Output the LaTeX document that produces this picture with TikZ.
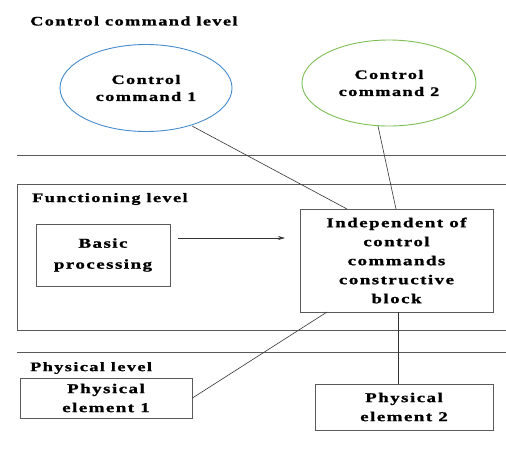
\documentclass[tikz,border=0pt]{standalone}
\usepackage{fontspec}
\setmainfont{Liberation Serif}
\newfontfamily\lbl[LetterSpace=11,FakeStretch=1.4,FakeBold=1.2]{Liberation Serif}
\usetikzlibrary{shapes.geometric,arrows.meta}
\definecolor{cblue}{RGB}{70,140,205}
\definecolor{cgreen}{RGB}{125,190,85}
\definecolor{lgray}{RGB}{90,90,90}
\begin{document}
\begin{tikzpicture}[x=1pt,y=-1pt,
  txt/.style={font=\lbl\bfseries\fontsize{13.5}{19}\selectfont, text=black, align=center, inner sep=0},
  ttl/.style={txt, anchor=west, font=\lbl\bfseries\fontsize{13}{15}\selectfont},
  boxn/.style={draw=lgray, line width=0.9pt, txt},
  elln/.style={ellipse, line width=0.9pt, txt, font=\lbl\bfseries\fontsize{13}{17}\selectfont},
  conn/.style={draw=black!80, line width=0.6pt},
  level/.style={draw=lgray, line width=0.6pt}]
\useasboundingbox (0,0) rectangle (506,448);
% level separators
\draw[level] (17,155) -- (506,155);
\draw[level] (506,184) -- (17,184) -- (17,330) -- (506,330);
\draw[level] (17,352) -- (506,352);
% titles
\node[ttl] (t1) at (30,21) {Control command level};
\node[ttl] (t2) at (32,199) {Functioning level};
\node[ttl] (t3) at (30,368) {Physical level};
% ellipses
\node[elln, draw=cblue, minimum width=172, minimum height=87] (c1) at (146,88) {Control\\command 1};
\node[elln, draw=cgreen, minimum width=174, minimum height=86] (c2) at (389,83) {Control\\command 2};
% boxes
\node[boxn, minimum width=134, minimum height=62, font=\lbl\bfseries\fontsize{13.5}{21}\selectfont] (bp) at (103,255) {Basic\\processing};
\node[boxn, minimum width=193, minimum height=103] (ib) at (396.5,260.5) {Independent of\\control\\commands\\constructive\\block};
\node[boxn, minimum width=172, minimum height=40] (p1) at (106,398) {Physical\\element 1};
\node[boxn, minimum width=178, minimum height=46] (p2) at (404,407) {Physical\\element 2};
% connectors
\coordinate (ae) at (285,238);
\draw[conn, -{Stealth[length=7pt,width=4pt]}] (178,238) -- (ae);
\coordinate (c1e) at (192,126);
\coordinate (c2e) at (378,126);
\draw[conn] (c1e) -- (347,209);
\draw[conn] (c2e) -- (396,209);
\draw[conn] (327,312) -- (p1.east);
\draw[conn] (398,312) -- (p2.north -| 398,0);
\end{tikzpicture}
\end{document}
